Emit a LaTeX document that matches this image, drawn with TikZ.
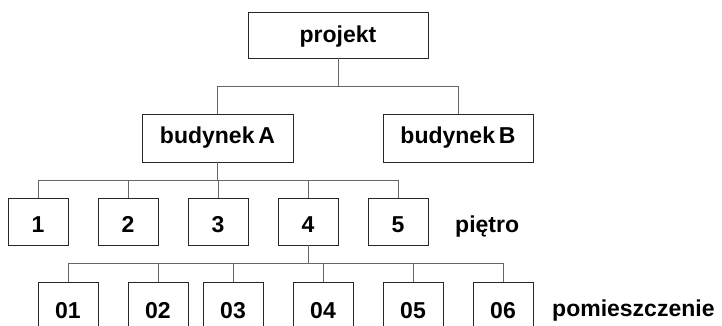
\documentclass[tikz,border=0pt]{standalone}
\usepackage{fontspec}
\setmainfont{Liberation Sans}
\begin{document}
\begin{tikzpicture}[x=1pt,y=-1pt,
  font=\fontsize{23}{27}\selectfont\bfseries,
  box/.style={draw=black!85, line width=0.8pt, rectangle, inner sep=2pt,
    text height=#1, text depth=0pt},
  floorbox/.style={box=21pt, minimum width=60pt, minimum height=47pt},
  roombox/.style={box=25pt, minimum width=60pt, minimum height=47pt},
  link/.style={draw=black!60, line width=0.8pt},
  tag/.style={anchor=base west, inner sep=0pt}]
\clip (0,0) rectangle (722,326);
\fill[white] (0,0) rectangle (722,326);

% top level
\node[box=16pt, minimum width=180pt, minimum height=46pt] (proj) at (338,35) {projekt};

% buildings
\node[box=10.6pt, minimum width=151pt, minimum height=48pt] (ba) at (217.5,138) {budynek\,A};
\node[box=10.6pt, minimum width=150pt, minimum height=48pt] (bb) at (458,138) {budynek\,B};

% floors of building A
\node[floorbox] (f1) at (38,221.5) {1};
\node[floorbox] (f2) at (128,221.5) {2};
\node[floorbox] (f3) at (218,221.5) {3};
\node[floorbox] (f4) at (308,221.5) {4};
\node[floorbox] (f5) at (398,221.5) {5};
\node[tag] (lf) at (455,232) {piętro};

% rooms of floor 4
\node[roombox] (r1) at (68,305.5) {01};
\node[roombox] (r2) at (158,305.5) {02};
\node[roombox] (r3) at (233,305.5) {03};
\node[roombox] (r4) at (323,305.5) {04};
\node[roombox] (r5) at (413,305.5) {05};
\node[roombox] (r6) at (503,305.5) {06};
\node[tag] (lr) at (552,316) {pomieszczenie};

% connector bars
\coordinate (bar0) at (338,86);
\coordinate (bar1) at (217.5,180);
\coordinate (bar2) at (308,263);

\draw[link] (proj.south) -- (bar0);
\draw[link] (bar0) -| (ba.north);
\draw[link] (bar0) -| (bb.north);

\draw[link] (ba.south) -- (bar1);
\foreach \n in {f1,f2,f3,f4,f5} \draw[link] (bar1) -| (\n.north);

\draw[link] (f4.south) -- (bar2);
\foreach \n in {r1,r2,r3,r4,r5,r6} \draw[link] (bar2) -| (\n.north);
\end{tikzpicture}
\end{document}
